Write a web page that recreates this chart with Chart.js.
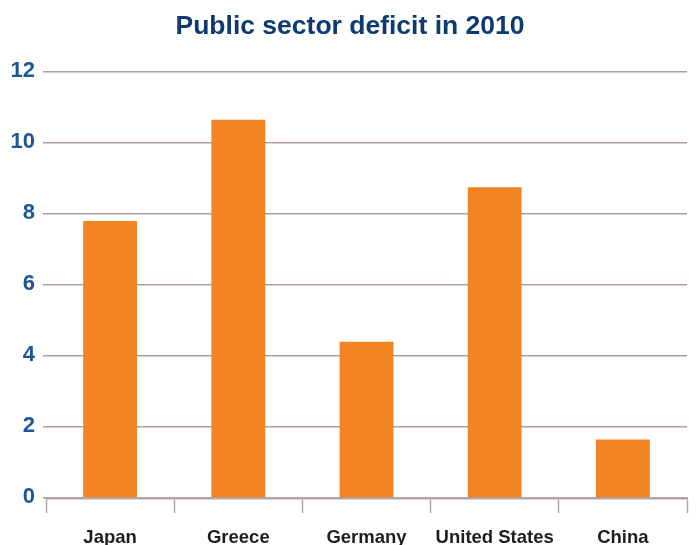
<!DOCTYPE html>
<html>
  <head>
    <script src="https://cdn.jsdelivr.net/npm/chart.js@4"></script>
    <style>
      html, body { margin: 0; padding: 0; background: #fff; }
      #wrap { width: 700px; height: 545px; }
    </style>
  </head>

  <body>
    <div id="wrap">
      <canvas id="canvas"></canvas>
    </div>
    <script>
      const countries = ['Japan', 'Greece', 'Germany', 'United States', 'China'];
      const deficit = [7.8, 10.65, 4.4, 8.75, 1.65];
      const yTicks = [0, 2, 4, 6, 8, 10, 12];

      const fontFamily = '"Liberation Sans", Arial, sans-serif';

      new Chart(document.getElementById('canvas').getContext('2d'), {
        type: 'bar',
        data: {
          labels: countries,
          datasets: [
            {
              data: deficit,
              backgroundColor: '#f38422',
              barPercentage: 0.42,
              categoryPercentage: 1,
            },
          ],
        },
        options: {
          responsive: true,
          maintainAspectRatio: false,
          animation: false,
          layout: { padding: 0 },
          plugins: {
            legend: { display: false },
            tooltip: { enabled: false },
            title: {
              display: true,
              text: 'Public sector deficit in 2010',
              color: '#0d3a70',
              font: { family: fontFamily, size: 26.5, weight: 'bold' },
              padding: { top: 11, bottom: 29 },
            },
          },
          scales: {
            x: {
              grid: {
                offset: true,
                drawOnChartArea: false,
                drawTicks: true,
                tickLength: 15,
                tickColor: '#b3a5a7',
                tickWidth: 1.5,
              },
              border: { color: '#b3a5a7', width: 2.5 },
              ticks: {
                color: '#1e1e1e',
                font: { family: fontFamily, size: 18.5, weight: 'bold' },
                padding: 14,
                maxRotation: 0,
              },
              afterFit: (s) => { s.height = 47; },
            },
            y: {
              min: 0,
              max: 12,
              afterBuildTicks: (s) => { s.ticks = yTicks.map((v) => ({ value: v })); },
              grid: {
                color: '#ae9fa1',
                lineWidth: 1.5,
                drawTicks: true,
                tickLength: 3,
              },
              border: { display: false },
              ticks: {
                color: '#1b5795',
                font: { family: fontFamily, size: 22, weight: 'bold' },
                padding: 8,
                labelOffset: -1,
              },
              afterFit: (s) => { s.width = 46; },
            },
            // empty right-hand gutter so the title centres on the whole canvas
            yRight: {
              position: 'right',
              min: 0,
              max: 12,
              grid: { drawOnChartArea: false, drawTicks: false },
              border: { display: false },
              ticks: { display: false },
              afterFit: (s) => { s.width = 13; },
            },
          },
        },
      });
    </script>
  </body>
</html>
